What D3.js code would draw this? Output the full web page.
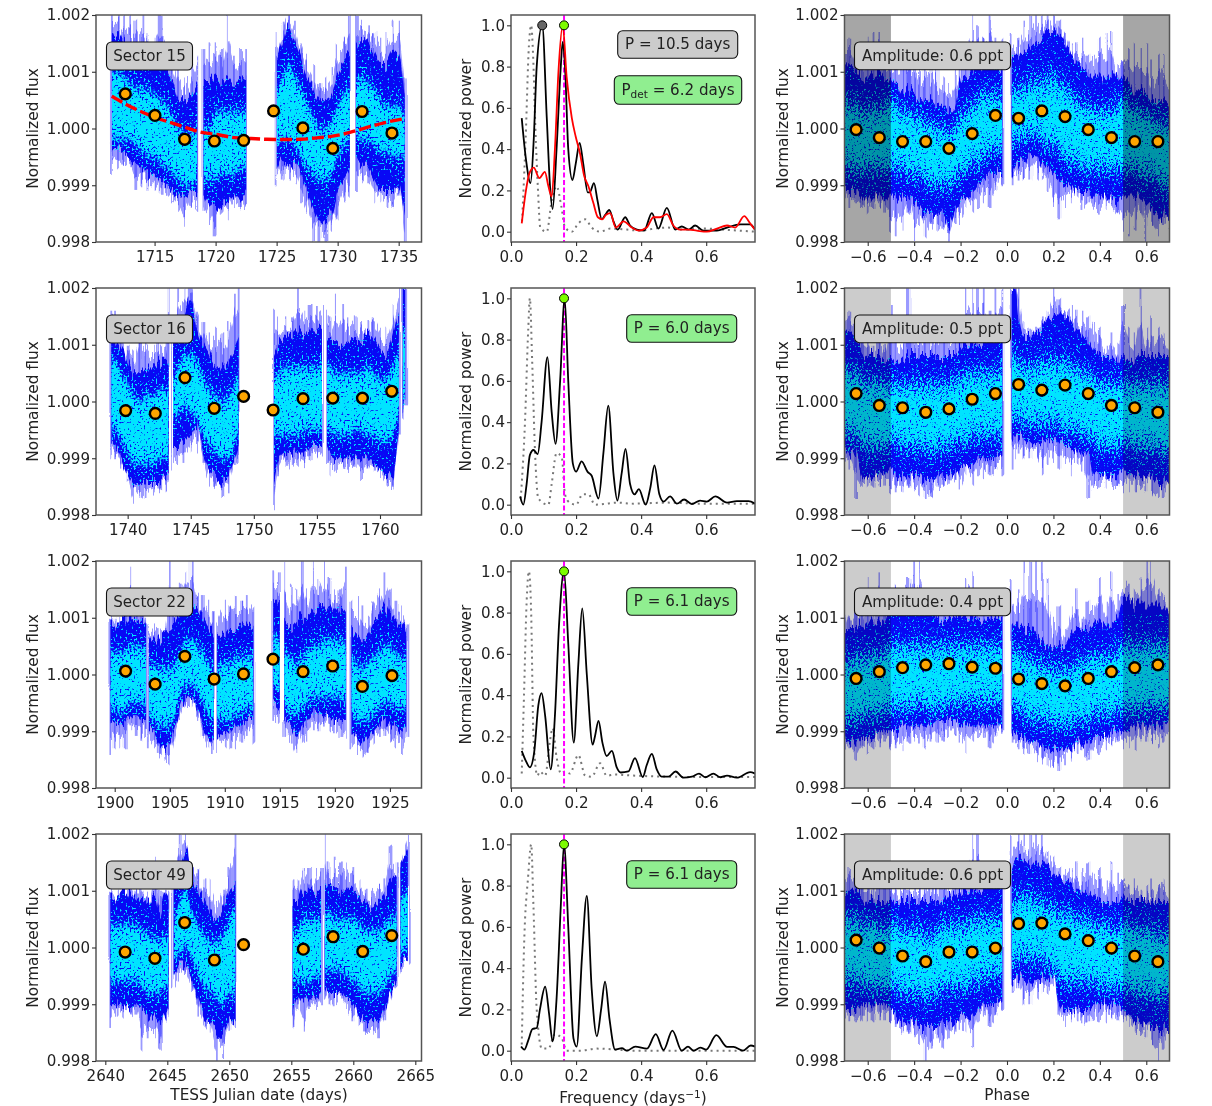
<!DOCTYPE html>
<html><head><meta charset="utf-8">
<script src="https://cdn.jsdelivr.net/npm/d3@7/dist/d3.min.js"></script>
<style>
html,body{margin:0;padding:0;background:#fff}
svg{display:block;filter:blur(0.35px)}
text{font-family:"DejaVu Sans",sans-serif;fill:#222}
</style></head><body>
<script>
// Light-curve envelopes. Flux offsets are in units of 1e-4.
// Row: [time or phase, spike top, blue top, cyan top, cyan bottom, blue bottom, spike bottom]; null = data gap.
const lc15=[[1711.5,20,16,10,-1,-4,-8],[1712,20,17,10,-2,-4,-7],[1712.5,20,15,9,-2,-4.5,-6.5],[1713,20,14,8,-2,-5,-7],[1713.5,19,13,7,-3,-6,-11],[1714,20,13,7,-4,-7,-10],[1714.5,17,13,6.5,-5,-8,-11],[1715,16,13,6,-5,-8.5,-11],[1715.5,20,12,5,-6,-9,-11.5],[1716,15,11,4,-7,-10,-12],[1716.5,14,8,2,-8,-11,-13],[1717,11,5,0,-9,-12,-14.5],[1717.5,9,5,-1,-10,-12,-17.5],[1718,11,6,-1,-10,-11,-14],[1718.5,13,8,0,-9,-11,-14.5],null,[1719,14,8,0,-9,-11,-14.5],[1719.5,15,8,0,-9,-13,-17],[1720,15,9,3,-9,-14,-19],[1720.5,14,8,3,-8,-13,-15],[1721,20,9,3,-8,-13,-16],[1721.5,13,8,3,-8,-12,-14],[1722,14,9,3,-7,-12,-14],[1722.5,14,9,3,-7,-11,-13.5],null,[1725,17,12,7,-3,-7,-10],[1725.5,19,15,9,-2,-5,-9],[1726,20,18,11,-2,-6,-9],[1726.5,19,15,9,-3,-6,-10],[1727,15,12,7,-5,-8,-13],[1727.5,13,9,4,-7,-11,-15],[1728,11,7,2,-8,-14,-20],[1728.5,8,5,0,-9,-16,-20],[1729,9,5,0,-9,-16,-20],[1729.5,11,6,1,-8,-15,-18],[1730,15,10,4,-5,-11,-16],[1730.5,16,12,6,-3,-9,-13],[1731,20,13,7,-2,-7,-12],null,[1731.5,20,15,8,-1,-6,-11],[1732,19,16,9,-2,-6,-10],[1732.5,18,15,8,-2,-7,-10],[1733,17,13,7,-3,-9,-13],[1733.5,16,11,5,-4,-11,-13],[1734,17,11,4,-4,-11,-14],[1734.5,19,13,4,-5,-11,-14],[1735,19,13,4,-5,-10,-12],[1735.5,9,5,2,-5,-15,-20]];
const lc16=[[1738.7,16,12,8,-5,-7,-10],[1739,16,11,7,-5,-8,-10],[1739.5,15,9,5,-7,-10,-12],[1740,10,7,3,-9,-13,-14],[1740.5,9,5,1,-11,-15,-18],[1741,15,5,0,-11,-15,-17],[1741.5,12,6,1,-11,-14,-17],[1742,10,6,1,-11,-14,-16],[1742.5,11,7,2,-10,-14,-15.5],[1743,12,7,2,-10,-13,-16],[1743.25,20,7,2,-9,-13,-14],null,[1743.6,12,10,4,-3,-8,-12],[1744,20,12,6,-2,-8,-11],[1744.5,20,15,8,-1,-7,-11],[1745,20,18,8,-2,-6,-9],[1745.5,16,13,7,-3,-4.5,-9],[1746,14,10,4,-6,-9,-11],[1746.5,12,8,2,-8,-12,-15],[1747,13,6,1,-9,-13,-15],[1747.5,12,6,0,-10,-14,-17],[1748,14,7,1,-10,-13,-16],[1748.5,19,10,3,-7,-10,-11],[1748.8,20,12,5,-5,-8,-11],null,[1751.6,16,8,4,-6,-14,-19],[1752,15,10,5,-6,-10,-13],[1752.5,15,11,6,-6,-9,-11.5],[1753,15,12,6,-6,-9,-11],[1753.5,20,12,6,-6,-9,-11.5],[1754,16,12,6,-5,-9,-11],[1754.5,17,12,6,-5,-8,-10.5],[1755,17,13,6,-5,-8,-10],[1755.4,17,13,7,-5,-8,-9.5],null,[1755.8,16,11,6,-5,-8,-11],[1756,15,11,6,-5,-9,-13],[1756.5,19,11,5,-6,-10,-12],[1757,17,10,5,-6,-10,-11.5],[1757.5,15,10,5,-6,-10,-12],[1758,15,11,5,-5,-10,-11.5],[1758.5,14,11,5,-5,-10,-14],[1759,14,12,6,-6,-10,-12],[1759.5,15,11,5,-6,-11,-12],[1760,13,9,4,-7,-12,-13.5],[1760.5,13,8,4,-7,-13,-15],[1761,17,11,6,-6,-13,-15],[1761.5,20,16,9,-2,-4.5,-6],null,[1761.8,20,20,12,0,-2,-3],[1762,20,20,13,1,0,-0.5]];
const lc22=[[1899.6,10,9,4,-6,-8,-14],[1900,10,9,4,-6,-8.5,-13],[1900.5,10,9,4,-7,-9,-13],[1901,15,9.5,4,-6,-8,-13],[1901.5,19,9.5,5,-5,-7,-10],[1902,15,10,5,-5,-7,-11],[1902.5,14,10,5,-5,-8,-11.5],[1902.85,10,9,4,-6,-8,-11],null,[1903.1,9,7,2,-7,-9,-13],[1903.5,9,6,2,-8,-10,-13],[1904,8,6,1,-9,-12,-14],[1904.5,8,7,1,-9,-13,-15],[1905,20,8,1,-9,-12,-16],[1905.5,13,9,2,-7,-9,-12],[1906,16,11,4,-3,-6,-8],[1906.5,18,14,6,-2,-4,-6],[1907,20,13,6,-2,-4,-6],[1907.5,14,12,5,-3,-6,-8],[1908,14,10,4,-5,-9,-11],[1908.5,13,8,2,-7,-11,-13],[1909,11,7,1,-9,-12,-14],null,[1909.3,9,7,1,-8,-11,-14],[1910,13,7,2,-8,-10,-13],[1910.5,12,8,2,-8,-10,-13],[1911,14,8,3,-7,-9,-13],[1911.5,13,9,3,-7,-9,-12],[1912,14,9,3,-6,-8,-11],[1912.6,12,8,3,-6,-8,-12],null,[1914.4,18,13,7,-2,-5,-8],[1915,18,12,6,-3,-6,-8.5],null,[1915.4,20,9,4,-5,-7,-11],[1916,16,8,3,-7,-9,-12],[1916.5,15,9,2,-7,-11,-14],[1917,20,10,3,-6,-9,-12],[1917.5,15,10,4,-5,-8,-12],[1918,20,11,5,-4,-7,-10],[1918.5,17,12,5,-4,-7,-10],[1919,20,12,6,-4,-7,-9],[1919.5,17,12,6,-4,-7.5,-10],[1920,15,12,6,-4,-8,-10],[1920.5,15,12,6,-4,-8,-11],[1921,19,11,5,-5,-8,-11.5],null,[1921.5,13,8,3,-7,-10,-13],[1922,14,7,2,-8,-11,-14],[1922.5,12,6,1,-8,-12,-15],[1923,10,7,2,-8,-11,-14],[1923.5,13,9,3,-7,-10,-12],[1924,15,10,4,-6,-9,-11],[1924.5,18,12,5,-5,-8,-11],[1925,15,10,5,-5,-9,-12],[1925.5,13,9,4,-6,-9,-13],[1926,12,9,3,-6,-10,-14],[1926.5,9,8,3,-6,-9,-11]];
const lc49=[[2640.4,10,9,4,-6,-10,-14],[2641,10,9,4,-6,-10,-12],[2641.5,11,10,4,-6,-10,-12.5],[2642,10,9,4,-6,-11,-12],[2642.5,10,9,4,-6,-10,-12],[2643,10,9,3,-7,-11,-18],[2643.5,9,8,2,-8,-12,-16],[2644,16,9,2,-8,-12,-16],[2644.4,10,6,1,-8,-13,-18],[2644.8,10,9,2,-7,-12,-13],[2645.1,10,9,2,-7,-11,-12],null,[2645.5,13,10,4,-2,-5,-7],[2646,20,13,8,-1,-3,-6],[2646.5,20,17,10,0,-3,-5],[2647,14,13,6,-2,-6,-8],[2647.5,14,10,4,-5,-9,-12],[2648,12,8,2,-7,-12,-14],[2648.5,12,6,1,-8,-13,-15],[2649,8,5,1,-9,-15,-20],[2649.5,10,7,2,-10,-15,-20],[2650,14,10,5,-8,-13,-14.5],[2650.5,20,12,7,-8,-13,-14],null,[2655.1,12,8,3,-6,-12,-14],[2655.5,12,8,3,-6,-9,-11],[2656,14,10,5,-6,-9,-15],[2656.5,14,10,5,-6,-9,-11],[2657,14,10,5,-5,-9,-11],[2657.4,14,10,5,-5,-8,-10],null,[2657.7,20,12,6,-4,-7,-9],[2658,15,11,6,-4,-8,-10],[2658.5,16,11,5,-4,-8,-10],[2659,15,10,5,-4,-8,-9],[2659.5,15,10,5,-5,-9,-11],[2660,14,10,5,-6,-10,-13],[2660.5,12,9,4,-7,-12,-13.5],[2661,10,8,3,-8,-13,-15],[2661.5,10,7,3,-8,-13,-15],[2662,11,8,3,-8,-13,-16],[2662.5,12,9,4,-7,-11,-13],[2663,18,11,5,-5,-8,-9],[2663.5,15,12,6,-4,-6,-7],null,[2663.8,15,14,8,-1,-3,-4.5],[2664.4,20,17,10,0,-2,-3]];
// Phase-folded envelopes, phase -0.5..0.5; the part beyond +-0.5 repeats these with a shift of one cycle.
const fold15=[[-.5,12,9,5,-7,-12,-18],[-.475,14,8,4,-7,-12,-19],[-.45,15,6,3,-7,-12,-18],[-.425,14,7,3,-8,-12,-15],[-.4,15,6,2,-8,-13,-20],[-.375,12,5,2,-8,-14,-17],[-.35,13,5,1,-9,-15,-19],[-.325,13,5,1,-10,-15,-17],[-.3,11,4,0,-10,-15,-18],[-.275,9,4,0,-10,-15,-18],[-.25,8,3,-1,-10,-17,-20],[-.225,10,4,0,-9,-14,-17],[-.2,11,8,2,-8,-13,-17],[-.175,15,9,3,-7,-12,-14],[-.15,20,10,4,-6,-11,-15],[-.125,18,11,5,-6,-10,-14],[-.1,16,12,6,-5,-9,-13],[-.075,20,12,6,-4,-8,-14],[-.05,16,11,6,-4,-8,-11],[-.02,16,10,5,-4,-8,-10],null,[.02,17,13,6,-2,-8,-10],[.05,16,13,7,-2,-6,-9],[.075,19,13,7,-2,-6,-9],[.1,20,14,8,-1,-4,-9],[.125,20,15,8,-1,-4,-9],[.15,20,16,8,-2,-6,-9],[.175,20,17,9,-3,-7,-11],[.2,20,17,9,-3,-8,-14],[.225,19,16,8,-4,-9,-16],[.25,17,15,7,-5,-10,-14],[.275,15,13,6,-6,-10,-13],[.3,15,12,5,-6,-11,-12],[.325,16,11,4,-7,-11,-14],[.35,13,10,4,-7,-11,-13],[.375,13,9,3,-7,-12,-14],[.4,16,9,3,-7,-12,-15],[.425,17,9,3,-7,-12,-14],[.45,17,10,3,-7,-12,-14],[.475,11,9,4,-7,-13,-15]];
const fold16=[[-.5,17,8,3,-7,-12,-16],[-.475,13,7,3,-7,-13,-16],[-.45,12,7,3,-8,-13,-16],[-.425,20,8,3,-8,-13,-15],[-.4,13,8,3,-8,-13,-16],[-.375,15,8,3,-8,-13,-16.5],[-.35,13,8,3,-8,-14,-17],[-.325,12,8,3,-9,-14,-17],[-.3,15,8,3,-8,-13,-15],[-.275,13,8,3,-8,-13,-15],[-.25,13,8,3,-8,-13,-14.5],[-.225,13,8,4,-7,-12,-14],[-.2,14,9,4,-7,-12,-15.5],[-.175,20,10,5,-7,-11,-13],[-.15,20,10,5,-6,-11,-15],[-.125,20,10,5,-6,-10,-13],[-.1,20,11,5,-6,-10,-13.5],[-.075,16,11,5,-6,-10,-13],[-.05,20,11,5,-6,-10,-12],[-.02,20,11,6,-6,-9,-13],null,[.02,20,20,8,-3,-6,-12],[.035,20,20,8,-3,-6,-10],[.05,20,15,7,-3,-6,-9],[.075,14,11,6,-4,-7,-10],[.1,13,11,6,-4,-7,-10],[.125,13,12,6,-4,-7,-10],[.15,15,13,7,-4,-7,-13],[.175,16,14,7,-4,-7,-11],[.2,20,15,7,-4,-7,-11],[.225,18,15,7,-4,-7,-12],[.25,16,15,7,-5,-8,-11],[.275,17,14,6,-5,-8,-13],[.3,16,13,6,-5,-9,-11],[.325,16,12,5,-6,-9,-12],[.35,15,11,5,-6,-9,-17],[.375,14,9,4,-7,-13,-15],[.4,13,8,3,-8,-13,-15],[.425,10,8,3,-8,-13,-15],[.45,12,8,3,-8,-13,-15],[.475,10,7,3,-8,-13,-15]];
const fold22=[[-.5,14,13,5,-6,-10,-13],[-.475,16,13,5,-6,-10,-13],[-.45,15,12,5,-6,-9,-13.5],[-.425,17,12,5,-6,-9,-12],[-.4,20,12,5,-6,-9,-12],[-.375,20,12,5,-5,-9,-12],[-.35,15,12,5,-6,-9,-13],[-.325,14,12,5,-6,-9,-12],[-.3,14,10,5,-6,-8,-12],[-.275,13,10,5,-6,-8,-12],[-.25,14,10,5,-5,-8,-11],[-.225,13,10,5,-5,-8,-11],[-.2,14,10,5,-5,-9,-12],[-.175,17,10,5,-5,-9,-14],[-.15,18,10,5,-5,-9,-12],[-.125,14,10,5,-5,-9,-11],[-.1,15,10,5,-5,-9,-11],[-.075,14,10,5,-5,-9,-13],[-.05,13,10,5,-5,-9,-11],[-.02,12,10,5,-5,-9,-10],null,[.02,17,9,4,-6,-10,-12],[.05,15,9,4,-6,-11,-13],[.075,20,8,3,-7,-11,-14],[.1,20,8,3,-8,-12,-14],[.125,20,7,2,-8,-12,-14],[.15,20,6,2,-8,-13,-15],[.175,17,5,1,-8,-13,-16],[.2,10,5,1,-9,-13,-16.5],[.225,12,5,1,-9,-13,-17],[.25,8,5,1,-9,-13,-16],[.275,12,7,1,-9,-13,-15],[.3,15,8,2,-8,-12,-14],[.325,10,8,2,-8,-12,-13],[.35,13,8,3,-8,-12,-15],[.375,12,9,3,-7,-11,-13],[.4,17,9,3,-7,-11,-14],[.425,13,9,3,-7,-11,-13],[.45,18,9,3,-7,-10,-13],[.475,14,10,4,-6,-10,-12]];
const fold49=[[-.5,12,9,4,-7,-11,-13],[-.475,11,8,4,-7,-12,-14],[-.45,12,8,3,-8,-13,-15],[-.425,10,8,3,-8,-13,-15],[-.4,11,8,3,-8,-13,-16],[-.375,12,8,3,-8,-14,-17],[-.35,11,8,2,-9,-14,-20],[-.325,12,8,2,-8,-14,-18],[-.3,13,8,3,-8,-14,-16],[-.275,11,9,4,-7,-13,-18],[-.25,11,9,4,-7,-13,-16],[-.225,13,9,4,-7,-13,-15],[-.2,12,9,4,-7,-12,-14.5],[-.175,12,10,4,-7,-12,-15],[-.15,20,10,5,-6,-12,-18],[-.125,20,10,5,-6,-11,-13],[-.1,14,11,5,-5,-10,-12],[-.075,15,11,5,-5,-10,-14],[-.05,14,11,5,-5,-10,-12],[-.02,14,11,5,-5,-9,-11],null,[.02,20,14,7,-3,-6,-8],[.05,20,16,9,-2,-5,-7],[.075,20,15,9,-2,-6,-10],[.1,20,14,9,-2,-6,-10],[.125,20,15,8,-2,-5,-9],[.15,20,15,8,-2,-5,-8],[.175,17,14,7,-3,-6,-8],[.2,16,13,7,-4,-5,-7],[.225,14,12,6,-5,-10,-12],[.25,14,12,6,-6,-11,-14],[.275,14,11,6,-6,-11,-13],[.3,15,10,5,-6,-11,-13],[.325,14,10,5,-6,-11,-13],[.35,15,10,5,-6,-11,-13],[.375,13,9,4,-6,-10,-13],[.4,14,8,4,-7,-10,-13],[.425,12,8,4,-7,-10,-13],[.45,15,8,3,-7,-10,-13],[.475,13,8,3,-7,-10,-13]];
// Binned flux
const binT15=[1712.6,1715.03,1717.46,1719.9,1722.3,1724.75,1727.15,1729.6,1732,1734.45];
const binF15=[1.00061,1.00023,.99981,.99978,.99979,1.00031,1.00001,.99965,1.0003,.99992];
const binT16=[1739.84,1742.19,1744.54,1746.86,1749.19,1751.53,1753.9,1756.26,1758.61,1760.93];
const binF16=[.99984,.99979,1.00042,.99988,1.00009,.99985,1.00005,1.00006,1.00006,1.00018];
const binT22=[1900.99,1903.67,1906.37,1909.03,1911.7,1914.38,1917.11,1919.8,1922.5,1925.19];
const binF22=[1.00006,.99983,1.00032,.99992,1.00001,1.00027,1.00005,1.00015,.99979,.99998];
const binT49=[2641.6,2644,2646.4,2648.8,2651.15,2655.97,2658.37,2660.76,2663.1];
const binF49=[.99992,.99981,1.00044,.99978,1.00005,.99997,1.00019,.99993,1.00021];
const phaseBins=[-.65,-.55,-.45,-.35,-.25,-.15,-.05,.05,.15,.25,.35,.45,.55,.65];
const foldF15=[.99998,.99984,.99977,.99977,.99965,.99991,1.00023,1.00018,1.00031,1.00021,.99998,.99984,.99977,.99977];
const foldF16=[1.00014,.99993,.99989,.99981,.99987,1.00004,1.00014,1.0003,1.0002,1.00029,1.00014,.99993,.99989,.99981];
const foldF22=[.99993,1.00005,1.00012,1.00017,1.00019,1.00013,1.00011,.99992,.99984,.9998,.99993,1.00005,1.00012,1.00017];
const foldF49=[1.00013,.99999,.99985,.99975,.99992,.99992,.99999,1.00042,1.00043,1.00024,1.00012,.99999,.99985,.99975];
// Slow trend, sector 15: [time, offset 1e-4]
const trendT=[1711.5,1712.8,1715,1717.4,1718.7,1720.1,1721.5,1722.9,1724.2,1725.6,1727,1728.3,1729.7,1731,1732.4,1733.8,1735.5];
const trendF=[5.7,4.1,2,.3,-.6,-1.06,-1.6,-1.76,-1.9,-1.94,-1.9,-1.65,-1.3,-.7,.2,1,1.76];
// Periodograms: frequency, power
const f15=[.033,.046,.06,.07,.079,.096,.11,.12,.128,.14,.153,.159,.166,.176,.189,.199,.211,.222,.236,.242,.255,.266,.279,.289,.302,.315,.328,.351,.366,.387,.409,.433,.453,.479,.505,.525,.546,.566,.592,.633,.664,.705,.735,.75];
const p15=[.55,.35,.235,.45,.8,1,.55,.22,.11,.4,.8,.92,.8,.4,.25,.33,.43,.33,.19,.19,.235,.15,.06,.08,.105,.05,.01,.07,.03,.01,.005,.09,.015,.115,.01,.025,.01,.03,.005,.005,.02,.035,.035,.01];
const fDet15=[.033,.046,.056,.07,.087,.104,.115,.125,.135,.146,.159,.171,.187,.199,.212,.225,.238,.253,.267,.281,.291,.305,.322,.346,.371,.392,.417,.438,.458,.479,.499,.52,.546,.571,.602,.633,.664,.689,.717,.735,.75];
const pDet15=[.04,.2,.28,.31,.26,.29,.22,.17,.4,.78,1,.75,.55,.46,.38,.27,.22,.14,.07,.06,.08,.09,.02,.05,.02,.005,.02,.07,.07,.085,.03,.01,.01,.005,0,.015,.03,.02,.075,.04,.01];
const fWin15=[.034,.045,.055,.062,.068,.075,.083,.09,.11,.125,.14,.155,.166,.187,.207,.228,.248,.274,.305,.356,.397,.44,.48,.52,.6,.65,.75];
const pWin15=[.05,.45,.9,1,.85,.5,.2,.02,0,.15,.22,.12,.02,0,.04,.06,.02,0,.015,.01,.005,.015,.02,.01,.015,.01,0];
const f16=[.028,.038,.048,.058,.069,.082,.094,.112,.125,.137,.151,.165,.176,.19,.2,.217,.235,.248,.269,.284,.299,.315,.327,.34,.352,.366,.38,.393,.414,.428,.441,.456,.469,.489,.51,.532,.556,.581,.602,.628,.664,.694,.73,.75];
const p16=[.04,0,.1,.24,.265,.245,.4,.715,.45,.295,.6,1,.6,.2,.16,.21,.16,.14,.03,.25,.48,.15,.02,.15,.27,.1,.05,.075,0,.08,.19,.05,.015,.04,.005,.025,.003,.02,.015,.04,.01,.017,.017,.005];
const fWin16=[.03,.043,.053,.058,.065,.074,.084,.115,.125,.14,.156,.166,.18,.2,.22,.238,.258,.295,.325,.376,.48,.58,.68,.75];
const pWin16=[.03,.4,.85,1,.7,.25,.03,0,.1,.25,.23,.05,.01,0,.05,.05,0,.005,.01,.005,.01,.005,.005,.005];
const f22=[.033,.046,.058,.071,.084,.094,.105,.122,.135,.148,.163,.176,.193,.207,.219,.233,.251,.258,.269,.281,.294,.31,.325,.337,.361,.381,.405,.417,.433,.448,.463,.484,.506,.53,.556,.578,.597,.622,.643,.664,.694,.735,.75];
const p22=[.13,.08,.05,.12,.35,.41,.3,.04,.3,.75,1,.65,.17,.55,.82,.5,.16,.2,.275,.17,.105,.13,.05,.025,.03,.095,.003,.06,.115,.04,.005,.005,.03,0,.005,.02,.002,.02,.002,.01,0,.027,.02];
const fWin22=[.033,.04,.048,.055,.062,.069,.081,.089,.105,.12,.128,.14,.154,.166,.181,.207,.228,.248,.274,.294,.32,.376,.48,.58,.75];
const pWin22=[.02,.4,.85,1,.8,.2,.01,.03,.01,.18,.24,.1,.02,.03,.02,.11,.01,.005,.07,.01,.015,.01,.005,.003,.003];
const f49=[.031,.041,.053,.066,.079,.089,.105,.117,.128,.14,.153,.163,.176,.192,.202,.218,.233,.248,.264,.277,.289,.303,.32,.341,.356,.382,.418,.445,.469,.496,.525,.544,.561,.582,.6,.631,.664,.684,.713,.737,.75];
const p49=[.02,.005,.05,.105,.11,.2,.31,.18,.045,.25,.7,1,.6,.06,.02,.45,.75,.3,.07,.2,.335,.15,.005,.012,0,.02,.01,.08,.003,.097,0,.02,0,.015,.005,.075,.018,.018,0,.025,.02];
const fWin49=[.033,.04,.053,.062,.069,.079,.095,.115,.135,.156,.171,.212,.264,.325,.376,.58,.75];
const pWin49=[.03,.5,.85,1,.7,.2,.01,.01,.08,.06,0,0,.01,.005,0,0,0];
const sectors=["Sector 15","Sector 16","Sector 22","Sector 49"];
const amplitudes=["Amplitude: 0.6 ppt","Amplitude: 0.5 ppt","Amplitude: 0.4 ppt","Amplitude: 0.6 ppt"];
const periods=["P = 10.5 days","P = 6.0 days","P = 6.1 days","P = 6.1 days"];
const timeDomains=[[1710.2,1736.87],[1737.49,1763.29],[1898.3,1927.87],[2639.25,2665.5]];
const timeTicks=[[1715,1720,1725,1730,1735],[1740,1745,1750,1755,1760],[1900,1905,1910,1915,1920,1925],[2640,2645,2650,2655,2660,2665]];
const lcs=[lc15,lc16,lc22,lc49], binT=[binT15,binT16,binT22,binT49], binF=[binF15,binF16,binF22,binF49];
const folds=[fold15,fold16,fold22,fold49], foldF=[foldF15,foldF16,foldF22,foldF49];
const pgF=[f15,f16,f22,f49], pgP=[p15,p16,p22,p49], winF=[fWin15,fWin16,fWin22,fWin49], winP=[pWin15,pWin16,pWin22,pWin49];
const peakFreq=.163, alias15=.096;

const rowTop=[15,288,561,834], H=227;
const colL={x:96,w:325.5}, colM={x:511,w:244}, colR={x:844.5,w:325};
const svg=d3.select("body").append("svg").attr("width",1212).attr("height",1106);
const defs=svg.append("defs");
const flt=defs.append("filter").attr("id","speck").attr("x","-5%").attr("y","-40%").attr("width","110%").attr("height","180%").attr("color-interpolation-filters","sRGB");
flt.append("feTurbulence").attr("type","fractalNoise").attr("baseFrequency","0.5").attr("numOctaves",2).attr("seed",4).attr("result","n");
flt.append("feColorMatrix").attr("in","n").attr("type","matrix").attr("values","0 0 0 0 0  0 0 0 0 0  0 0 0 0 0  1 0 0 0 0").attr("result","na");
flt.append("feGaussianBlur").attr("in","SourceAlpha").attr("stdDeviation","0 13").attr("result","b");
flt.append("feComposite").attr("in","b").attr("in2","na").attr("operator","arithmetic").attr("k1",0).attr("k2",.66).attr("k3",1.7).attr("k4",-1.08).attr("result","s");
flt.append("feComponentTransfer").attr("in","s").attr("result","m").append("feFuncA").attr("type","linear").attr("slope",5);
flt.append("feFlood").attr("flood-color","#00e4ff");
flt.append("feComposite").attr("in2","m").attr("operator","in");
// Vertical streak roughening of the edges, standing in for the individual error bars.
function streak(id,seed,scale,xOn){
  const s=defs.append("filter").attr("id",id).attr("x","-5%").attr("y","-15%").attr("width","110%").attr("height","130%").attr("color-interpolation-filters","sRGB");
  s.append("feTurbulence").attr("type","fractalNoise").attr("baseFrequency","0.42 0.012").attr("numOctaves",2).attr("seed",seed).attr("result","n");
  s.append("feColorMatrix").attr("in","n").attr("type","matrix").attr("values",`${xOn?"1 0 0 0 0":"0 0 0 0 .5"}  0 1 0 0 0  0 0 0 0 0  0 0 0 0 1`).attr("result","m");
  s.append("feDisplacementMap").attr("in","SourceGraphic").attr("in2","m").attr("scale",scale).attr("xChannelSelector","R").attr("yChannelSelector","G");
}
streak("st1",9,26,false);
streak("st2",21,38,false);
const jit=defs.append("filter").attr("id","jit").attr("x","-5%").attr("y","-5%").attr("width","110%").attr("height","110%").attr("color-interpolation-filters","sRGB");
jit.append("feTurbulence").attr("type","fractalNoise").attr("baseFrequency","0.2 0.004").attr("numOctaves",1).attr("seed",5).attr("result","n");
jit.append("feDisplacementMap").attr("in","SourceGraphic").attr("in2","n").attr("scale",8).attr("xChannelSelector","R").attr("yChannelSelector","B");

const flux=v=>1+v*1e-4;
const yFlux=d3.scaleLinear().domain([.998,1.002]).range([H,0]);
const yPow=d3.scaleLinear().domain([-.05,1.05]).range([H,0]);
let clipN=0;
function panel(col,r){
  const g=svg.append("g").attr("transform",`translate(${col.x},${rowTop[r]})`);
  const id="c"+(clipN++);
  defs.append("clipPath").attr("id",id).append("rect").attr("width",col.w).attr("height",H);
  const inner=g.append("g").attr("clip-path",`url(#${id})`);
  return {g,inner};
}
function frame(g,col,x,y,xt,yt,xf,yf){
  g.append("rect").attr("width",col.w).attr("height",H).attr("fill","none").attr("stroke","#555").attr("stroke-width",1.5);
  const ax=g.append("g").attr("transform",`translate(0,${H})`).call(d3.axisBottom(x).tickValues(xt).tickFormat(xf).tickSize(4).tickPadding(5));
  const ay=g.append("g").call(d3.axisLeft(y).tickValues(yt).tickFormat(yf).tickSize(4).tickPadding(2));
  [ax,ay].forEach(a=>{a.select(".domain").remove();a.selectAll("text").attr("font-size",15.1).attr("font-family",'"DejaVu Sans",sans-serif').attr("fill","#222");a.selectAll("line").attr("stroke","#333").attr("stroke-width",1.1);});
}
function drawDensity(inner,x,rows){
  const xa=d=>x(d[0]);
  const spikes=rows.filter(d=>d);
  inner.append("g").attr("filter","url(#jit)").selectAll("line").data(spikes).join("line")
    .attr("x1",xa).attr("x2",xa).attr("y1",d=>yFlux(flux(d[1]))).attr("y2",d=>yFlux(flux(d[6])))
    .attr("stroke","#2020ff").attr("stroke-opacity",.45).attr("stroke-width",1.8);
  const fringe=d3.area().defined(d=>d).x(xa).y0(d=>yFlux(flux((d[5]+d[6])/2))).y1(d=>yFlux(flux((d[1]+d[2])/2))).curve(d3.curveMonotoneX);
  inner.append("path").datum(rows).attr("d",fringe).attr("fill","#2020ff").attr("opacity",.45).attr("filter","url(#st2)");
  const blue=d3.area().defined(d=>d).x(xa).y0(d=>yFlux(flux(d[5]))).y1(d=>yFlux(flux(d[2]))).curve(d3.curveMonotoneX);
  inner.append("path").datum(rows).attr("d",blue).attr("fill","#0808f5").attr("filter","url(#st1)");
  const id="c"+(clipN++);
  defs.append("clipPath").attr("id",id).append("path").attr("d",blue(rows));
  const cy=d3.area().defined(d=>d).x(xa).y0(d=>yFlux(flux(d[4]))).y1(d=>yFlux(flux(d[3]))).curve(d3.curveMonotoneX);
  inner.append("g").attr("clip-path",`url(#${id})`).append("path").datum(rows).attr("d",cy).attr("fill","#000").attr("filter","url(#speck)");
}
function bins(inner,x,xs,ys){
  inner.append("g").selectAll("circle").data(xs).join("circle")
    .attr("cx",d=>x(d)).attr("cy",(d,i)=>yFlux(ys[i])).attr("r",5.4)
    .attr("fill","#ffa500").attr("stroke","#000").attr("stroke-width",2.4);
}
function box(g,x0,y0,w,h,fill,draw){
  g.append("rect").attr("x",x0).attr("y",y0).attr("width",w).attr("height",h).attr("rx",5).attr("fill",fill).attr("stroke","#111").attr("stroke-width",1.1);
  const t=g.append("text").attr("x",x0+w/2).attr("y",y0+h/2+4.8).attr("text-anchor","middle").attr("font-size",15.1);
  draw(t);
}
const fluxTicks=[.998,.999,1,1.001,1.002], fmtFlux=d3.format(".3f"), fmtD=d3.format("d"), fmt1=d3.format(".1f");
sectors.forEach((s,r)=>{
  // light curve
  {
    const {g,inner}=panel(colL,r);
    const x=d3.scaleLinear().domain(timeDomains[r]).range([0,colL.w]);
    drawDensity(inner,x,lcs[r]);
    if(r===0){
      const l=d3.line().x((d,i)=>x(d)).y((d,i)=>yFlux(flux(trendF[i]))).curve(d3.curveMonotoneX);
      inner.append("path").datum(trendT).attr("d",l).attr("fill","none").attr("stroke","#ff0000").attr("stroke-width",3.4).attr("stroke-dasharray","12 4");
    }
    bins(inner,x,binT[r],binF[r]);
    frame(g,colL,x,yFlux,timeTicks[r],fluxTicks,fmtD,fmtFlux);
    box(g,10.5,27,86,28,"#cccccc",t=>t.text(s));
    g.append("text").attr("transform",`translate(-58.5,${H/2}) rotate(-90)`).attr("text-anchor","middle").attr("font-size",15.4).text("Normalized flux");
  }
  // periodogram
  {
    const {g,inner}=panel(colM,r);
    const x=d3.scaleLinear().domain([0,.75]).range([0,colM.w]);
    const line=(fs,ps)=>d3.line().x(d=>x(d)).y((d,i)=>yPow(ps[i])).curve(d3.curveMonotoneX)(fs);
    inner.append("path").attr("d",line(winF[r],winP[r])).attr("fill","none").attr("stroke","#777").attr("stroke-width",2).attr("stroke-dasharray","2 4");
    inner.append("line").attr("x1",x(peakFreq)).attr("x2",x(peakFreq)).attr("y1",0).attr("y2",H).attr("stroke","#ff00ff").attr("stroke-width",2).attr("stroke-dasharray","5 2.5");
    inner.append("path").attr("d",line(pgF[r],pgP[r])).attr("fill","none").attr("stroke","#000").attr("stroke-width",1.8);
    if(r===0) inner.append("path").attr("d",line(fDet15,pDet15)).attr("fill","none").attr("stroke","#ff0000").attr("stroke-width",1.8);
    if(r===0) inner.append("circle").attr("cx",x(alias15)).attr("cy",yPow(1)).attr("r",4.5).attr("fill","#666").attr("stroke","#000").attr("stroke-width",1);
    inner.append("circle").attr("cx",x(peakFreq)).attr("cy",yPow(1)).attr("r",4.5).attr("fill","#7cfc00").attr("stroke","#000").attr("stroke-width",1);
    frame(g,colM,x,yPow,[0,.2,.4,.6],[0,.2,.4,.6,.8,1],fmt1,fmt1);
    if(r===0){
      box(g,106.7,15.7,120,27.6,"#cccccc",t=>t.text(periods[0]));
      box(g,103.3,60.7,127.4,28.6,"#90ee90",t=>{t.append("tspan").text("P");t.append("tspan").attr("font-size",10.5).attr("dy",3.5).text("det");t.append("tspan").attr("dy",-3.5).text(" = 6.2 days");});
    } else box(g,115.7,26.7,110,27.6,"#90ee90",t=>t.text(periods[r]));
    g.append("text").attr("transform",`translate(-40.5,${H/2}) rotate(-90)`).attr("text-anchor","middle").attr("font-size",15.4).text("Normalized power");
  }
  // folded
  {
    const {g,inner}=panel(colR,r);
    const x=d3.scaleLinear().domain([-.7,.7]).range([0,colR.w]);
    const f=folds[r].filter(d=>d);
    const before=f.filter(d=>d[0]>=.3).map(d=>[d[0]-1,...d.slice(1)]);
    const after=f.filter(d=>d[0]<=-.3).map(d=>[d[0]+1,...d.slice(1)]);
    drawDensity(inner,x,[...before,...folds[r],...after]);
    const dark=r===0?.35:.2;
    [[-.7,-.5],[.5,.7]].forEach(e=>inner.append("rect").attr("x",x(e[0])).attr("width",x(e[1])-x(e[0])).attr("height",H).attr("fill","#000").attr("fill-opacity",dark));
    bins(inner,x,phaseBins,foldF[r]);
    frame(g,colR,x,yFlux,[-.6,-.4,-.2,0,.2,.4,.6],fluxTicks,fmt1,fmtFlux);
    box(g,10,27,156,27.7,"#cccccc",t=>t.text(amplitudes[r]));
    g.append("text").attr("transform",`translate(-57,${H/2}) rotate(-90)`).attr("text-anchor","middle").attr("font-size",15.4).text("Normalized flux");
  }
});
const lab=(x,y,t)=>svg.append("text").attr("x",x).attr("y",y).attr("text-anchor","middle").attr("font-size",15.3).text(t);
lab(259,1100,"TESS Julian date (days)");
lab(1007,1100,"Phase");
const ft=svg.append("text").attr("x",633).attr("y",1103).attr("text-anchor","middle").attr("font-size",15.3);
ft.append("tspan").text("Frequency (days");
ft.append("tspan").attr("font-size",10.5).attr("dy",-5.5).text("−1");
ft.append("tspan").attr("dy",5.5).text(")");
</script>
</body></html>
